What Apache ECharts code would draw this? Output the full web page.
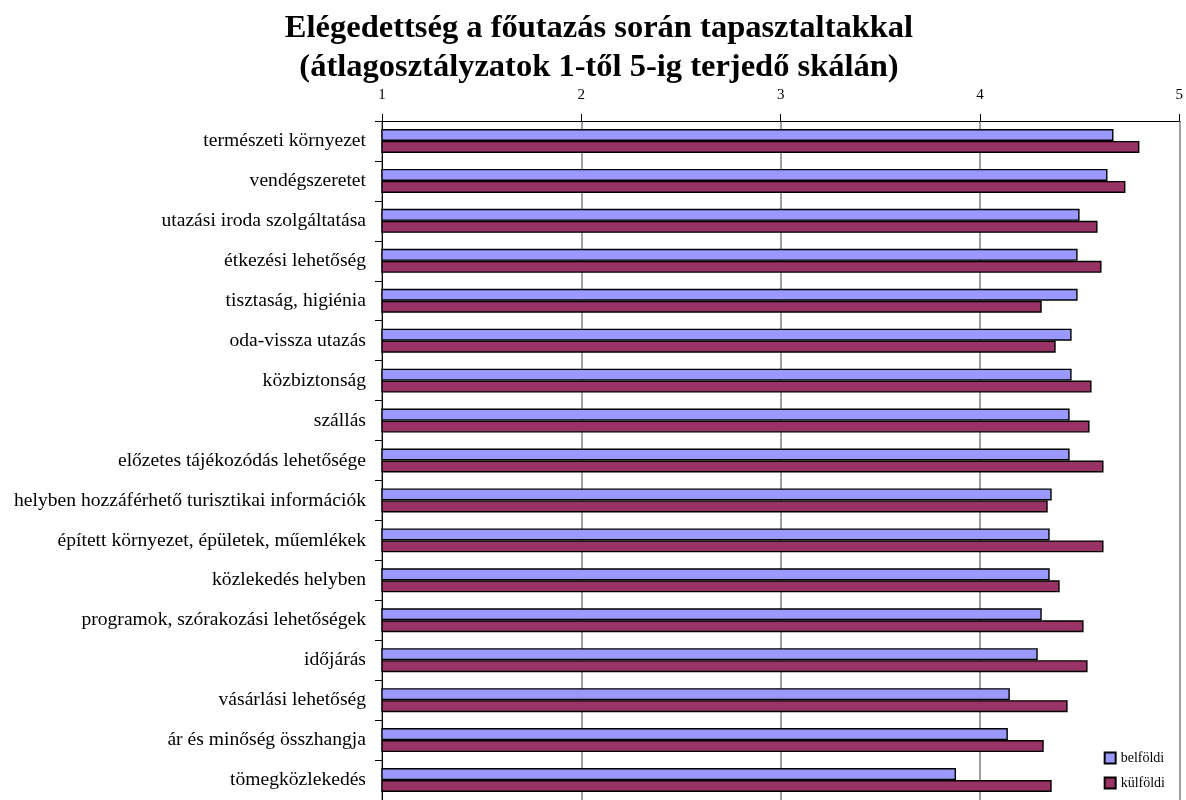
<!DOCTYPE html>
<html>
<head>
<meta charset="utf-8">
<style>
  html, body { margin: 0; padding: 0; background: #fff; }
  #chart { width: 1186px; height: 800px; }
</style>
<script src="https://cdn.jsdelivr.net/npm/echarts@6/dist/echarts.min.js"></script>
</head>
<body>
<div id="chart"></div>
<script>
const categories = [
  'természeti környezet',
  'vendégszeretet',
  'utazási iroda szolgáltatása',
  'étkezési lehetőség',
  'tisztaság, higiénia',
  'oda-vissza utazás',
  'közbiztonság',
  'szállás',
  'előzetes tájékozódás lehetősége',
  'helyben hozzáférhető turisztikai információk',
  'épített környezet, épületek, műemlékek',
  'közlekedés helyben',
  'programok, szórakozási lehetőségek',
  'időjárás',
  'vásárlási lehetőség',
  'ár és minőség összhangja',
  'tömegközlekedés'
]
const belfoldi = [4.67, 4.64, 4.50, 4.49, 4.49, 4.46, 4.46, 4.45, 4.45, 4.36, 4.35, 4.35, 4.31, 4.29, 4.15, 4.14, 3.88]
const kulfoldi = [4.80, 4.73, 4.59, 4.61, 4.31, 4.38, 4.56, 4.55, 4.62, 4.34, 4.62, 4.40, 4.52, 4.54, 4.44, 4.32, 4.36]
const seriesNames = ['belföldi', 'külföldi']
const xTicks = { min: 1, max: 5, interval: 1 }

const serif = "'Liberation Serif', 'Times New Roman', serif"

const chart = echarts.init(document.getElementById('chart'))
chart.setOption({
  backgroundColor: '#fff',
  animation: false,
  title: {
    text: 'Elégedettség a főutazás során tapasztaltakkal\n(átlagosztályzatok 1-től 5-ig terjedő skálán)',
    left: 594,
    textAlign: 'center',
    top: 4,
    textStyle: {
      fontFamily: serif,
      fontWeight: 'bold',
      fontSize: 32.5,
      lineHeight: 39,
      color: '#000'
    }
  },
  legend: {
    orient: 'vertical',
    right: 16,
    bottom: 5,
    itemWidth: 11,
    itemHeight: 11,
    itemGap: 11,
    icon: 'rect',
    data: seriesNames,
    textStyle: {
      fontFamily: serif,
      fontSize: 14,
      color: '#000'
    }
  },
  grid: {
    left: 382,
    right: 2,
    top: 121,
    height: 680,
    containLabel: false
  },
  xAxis: {
    type: 'value',
    position: 'top',
    min: xTicks.min,
    max: xTicks.max,
    interval: xTicks.interval,
    axisLine: { show: true, lineStyle: { color: '#000', width: 1 } },
    axisTick: { show: true, inside: false, length: 7, lineStyle: { color: '#000' } },
    axisLabel: {
      margin: 18,
      fontFamily: serif,
      fontSize: 15,
      color: '#000'
    },
    splitLine: { show: true, lineStyle: { color: '#808080', width: 1.5 } }
  },
  yAxis: {
    type: 'category',
    inverse: true,
    data: categories,
    axisLine: { show: true, lineStyle: { color: '#000', width: 1 } },
    axisTick: { show: true, length: 7, lineStyle: { color: '#000' } },
    axisLabel: {
      margin: 16,
      fontFamily: serif,
      fontSize: 19.6,
      color: '#000'
    }
  },
  series: [
    {
      name: seriesNames[0],
      type: 'bar',
      data: belfoldi,
      barGap: '0%',
      barCategoryGap: '40%',
      itemStyle: { color: '#9999FF', borderColor: '#000', borderWidth: 1.4 }
    },
    {
      name: seriesNames[1],
      type: 'bar',
      data: kulfoldi,
      barGap: '0%',
      barCategoryGap: '40%',
      itemStyle: { color: '#993366', borderColor: '#000', borderWidth: 1.4 }
    }
  ]
})
</script>
</body>
</html>
